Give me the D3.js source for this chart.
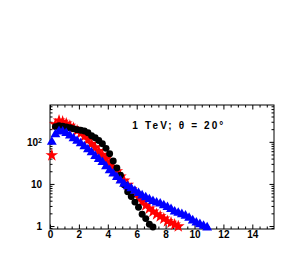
<!DOCTYPE html>
<html>
<head>
<meta charset="utf-8">
<script src="https://cdn.jsdelivr.net/npm/d3@7"></script>
<style>
  body { margin: 0; background: #fff; }
  svg text { font-family: "Liberation Sans", Arial, sans-serif; font-weight: bold; }
</style>
</head>
<body>
<div id="chart"></div>
<script>
// bin centres (0.25 wide bins)
const binCenters = [0.125, 0.375, 0.625, 0.875, 1.125, 1.375, 1.625, 1.875, 2.125, 2.375,
  2.625, 2.875, 3.125, 3.375, 3.625, 3.875, 4.125, 4.375, 4.625, 4.875,
  5.125, 5.375, 5.625, 5.875, 6.125, 6.375, 6.625, 6.875, 7.125, 7.375,
  7.625, 7.875, 8.125, 8.375, 8.625, 8.875, 9.125, 9.375, 9.625, 9.875,
  10.125, 10.375, 10.625, 10.875];

const blackCircles = [null, 230, 240, 235, 225, 215, 205, 195, 188, 180,
  165, 140, 125, 108, 90, 70, 52, 35, 24, 16,
  9.5, 6.5, 5.0, 3.7, 2.8, 1.9, 1.5, 1.1, 0.95];

const redStars = [48, 260, 320, 300, 270, 240, 210, 185, 160, 135,
  112, 90, 74, 60, 49, 40, 32, 25, 20, 15,
  12, 9.5, 7.5, 6.0, 4.8, 3.8, 3.1, 2.6, 2.2, 1.9,
  1.7, 1.5, 1.3, 1.2, 1.08, 0.98];

const blueTriangles = [100, 150, 180, 175, 160, 140, 120, 105, 92, 78,
  66, 56, 46, 39, 33, 26, 21, 17.5, 14.5, 12,
  10, 8.7, 7.8, 6.8, 6.0, 5.3, 4.8, 4.3, 3.9, 3.6,
  3.4, 3.1, 2.8, 2.5, 2.2, 2.05, 1.9, 1.75, 1.55, 1.35,
  1.2, 1.1, 1.0, 0.92];

const xMajor = [0, 2, 4, 6, 8, 10, 12, 14];
const xMinor = [0.5, 1, 1.5, 2.5, 3, 3.5, 4.5, 5, 5.5, 6.5, 7, 7.5, 8.5, 9, 9.5,
  10.5, 11, 11.5, 12.5, 13, 13.5, 14.5, 15];
const yMajor = [1, 10, 100];
const yMinor = [0.9, 2, 3, 4, 5, 6, 7, 8, 9, 20, 30, 40, 50, 60, 70, 80, 90,
  200, 300, 400, 500, 600, 700];
const label = "1 TeV; \u03b8 = 20\u00b0";

const width = 305, height = 256;
const margin = { top: 105, left: 50, bottom: 27, right: 31 };
const iwidth = width - margin.left - margin.right;
const iheight = height - margin.top - margin.bottom;

const svg = d3.select("#chart").append("svg")
  .attr("width", width)
  .attr("height", height);

const g = svg.append("g").attr("transform", `translate(${margin.left},${margin.top})`);

const x = d3.scaleLinear().domain([0, 15.5]).range([0, iwidth]);
const y = d3.scaleLog().domain([0.85, 750]).range([iheight, 0]);

function zip(vals) {
  return vals.map((v, i) => ({ x: binCenters[i], y: v })).filter(d => d.y != null);
}

// axes, ticks pointing inwards
const maj = 4.5, mnr = 2.5;
function addAxis(gen, transform, cls) {
  const a = g.append("g").attr("class", cls).attr("transform", transform).call(gen);
  a.select(".domain").remove();
  a.selectAll("line").attr("stroke", "#000");
  return a;
}

addAxis(d3.axisBottom(x).tickValues(xMajor).tickSize(-maj).tickPadding(2).tickFormat(d3.format("d")),
  `translate(0,${iheight})`, "x-axis")
  .selectAll("text").attr("font-size", 10).attr("fill", "#000");
addAxis(d3.axisBottom(x).tickValues(xMinor).tickSize(-mnr).tickFormat(""), `translate(0,${iheight})`, "x-minor");
addAxis(d3.axisTop(x).tickValues(xMajor).tickSize(-maj).tickFormat(""), "translate(0,0)", "x-top");
addAxis(d3.axisTop(x).tickValues(xMinor).tickSize(-mnr).tickFormat(""), "translate(0,0)", "x-top-minor");

const yAx = addAxis(d3.axisLeft(y).tickValues(yMajor).tickSize(-maj).tickPadding(8).tickFormat(""),
  "translate(0,0)", "y-axis");
yAx.selectAll(".tick text").each(function(d) {
  const t = d3.select(this).attr("font-size", 10).attr("fill", "#000");
  if (d === 100) {
    t.append("tspan").text("10");
    t.append("tspan").attr("dy", "-0.4em").attr("font-size", 7).text("2");
  } else {
    t.text(d3.format("d")(d));
  }
});
addAxis(d3.axisLeft(y).tickValues(yMinor).tickSize(-mnr).tickFormat(""), "translate(0,0)", "y-minor");
addAxis(d3.axisRight(y).tickValues(yMajor).tickSize(-maj).tickFormat(""), `translate(${iwidth},0)`, "y-right");
addAxis(d3.axisRight(y).tickValues(yMinor).tickSize(-mnr).tickFormat(""), `translate(${iwidth},0)`, "y-right-minor");

g.append("rect")
  .attr("width", iwidth).attr("height", iheight)
  .attr("fill", "none").attr("stroke", "#000").attr("stroke-width", 1);

// data series
const series = [
  { data: redStars, color: "#ff0000", sym: d3.symbolStar, size: 50 },
  { data: blackCircles, color: "#000000", sym: d3.symbolCircle, size: 38 },
  { data: blueTriangles, color: "#0000ff", sym: d3.symbolTriangle, size: 42 }
];

series.forEach(s => {
  g.append("g").selectAll("path").data(zip(s.data)).enter().append("path")
    .attr("d", d3.symbol().type(s.sym).size(s.size))
    .attr("transform", d => `translate(${x(d.x)},${y(d.y)})`)
    .attr("fill", s.color);
});

g.append("text")
  .attr("x", x(5.7)).attr("y", 23.5)
  .attr("font-size", 10)
  .attr("textLength", 91)
  .attr("lengthAdjust", "spacing")
  .text(label);
</script>
</body>
</html>
